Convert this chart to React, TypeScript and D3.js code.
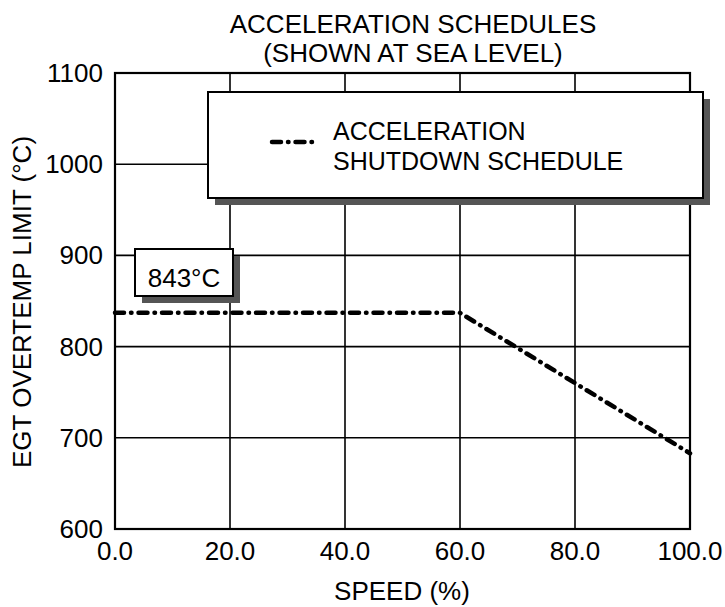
import React, { useEffect, useRef } from 'react';
import * as d3 from 'd3';

const speedTicks = [0, 20, 40, 60, 80, 100];
const tempTicks = [600, 700, 800, 900, 1000, 1100];
const scheduleSpeed = [0, 60, 100];
const scheduleTemp = [837, 837, 683];
const limitLabel = '843°C';
const legendLines = ['ACCELERATION', 'SHUTDOWN SCHEDULE'];
const titleLines = ['ACCELERATION SCHEDULES', '(SHOWN AT SEA LEVEL)'];

const W = 725, H = 607;
const FONT = '"Liberation Sans", Arial, Helvetica, sans-serif';
const FS = 26;

const App = () => {
  const ref = useRef<SVGSVGElement>(null);

  useEffect(() => {
    if (!ref.current) return;
    const svg = d3.select(ref.current);
    svg.selectAll('*').remove();

    const x = d3.scaleLinear().domain([0, 100]).range([115, 690]);
    const y = d3.scaleLinear().domain([600, 1100]).range([529, 73]);

    svg.append('rect').attr('width', W).attr('height', H).attr('fill', '#fff');

    // title
    svg.append('g').selectAll('text').data(titleLines).enter().append('text')
      .attr('x', 413).attr('y', (d, i) => 33 + i * 29)
      .attr('text-anchor', 'middle').attr('font-family', FONT).attr('font-size', FS)
      .text(d => d);

    // grid
    const grid = svg.append('g').attr('stroke', '#000').attr('stroke-width', 1.6);
    grid.selectAll('.v').data(speedTicks.slice(1, -1)).enter().append('line')
      .attr('x1', d => x(d)).attr('x2', d => x(d)).attr('y1', y(1100)).attr('y2', y(600));
    grid.selectAll('.h').data(tempTicks.slice(1, -1)).enter().append('line')
      .attr('y1', d => y(d)).attr('y2', d => y(d)).attr('x1', x(0)).attr('x2', x(100));
    svg.append('rect')
      .attr('x', x(0)).attr('y', y(1100)).attr('width', x(100) - x(0)).attr('height', y(600) - y(1100))
      .attr('fill', 'none').attr('stroke', '#000').attr('stroke-width', 2.2);

    // tick labels
    svg.append('g').selectAll('text').data(speedTicks).enter().append('text')
      .attr('x', d => x(d)).attr('y', 560).attr('text-anchor', 'middle')
      .attr('font-family', FONT).attr('font-size', FS).text(d => d3.format('.1f')(d));
    svg.append('g').selectAll('text').data(tempTicks).enter().append('text')
      .attr('x', 103).attr('y', d => y(d) + 9).attr('text-anchor', 'end')
      .attr('font-family', FONT).attr('font-size', FS).text(d => d);

    // axis titles
    svg.append('text').attr('x', 402).attr('y', 600).attr('text-anchor', 'middle')
      .attr('font-family', FONT).attr('font-size', FS).text('SPEED (%)');
    svg.append('text').attr('transform', `translate(31,302) rotate(-90)`)
      .attr('text-anchor', 'middle').attr('font-family', FONT).attr('font-size', FS)
      .text('EGT OVERTEMP LIMIT (°C)');

    // schedule line
    const pts = scheduleSpeed.map((s, i) => [s, scheduleTemp[i]] as [number, number]);
    const dash = '9 7 0.5 7';
    svg.append('path').datum(pts)
      .attr('d', d3.line<[number, number]>().x(d => x(d[0])).y(d => y(d[1])))
      .attr('fill', 'none').attr('stroke', '#000').attr('stroke-width', 4.5)
      .attr('stroke-linecap', 'round').attr('stroke-dasharray', dash);

    // legend box with shadow
    const lg = svg.append('g');
    lg.append('rect').attr('x', 215).attr('y', 99).attr('width', 495).attr('height', 106).attr('fill', '#555');
    lg.append('rect').attr('x', 208).attr('y', 92).attr('width', 495).attr('height', 106)
      .attr('fill', '#fff').attr('stroke', '#000').attr('stroke-width', 2);
    lg.append('line').attr('x1', 272).attr('x2', 317).attr('y1', 142).attr('y2', 142)
      .attr('stroke', '#000').attr('stroke-width', 4.5).attr('stroke-linecap', 'round')
      .attr('stroke-dasharray', dash);
    lg.selectAll('text').data(legendLines).enter().append('text')
      .attr('x', 333).attr('y', (d, i) => 140 + i * 30)
      .attr('font-family', FONT).attr('font-size', 25).text(d => d);

    // value label box
    const vb = svg.append('g');
    vb.append('rect').attr('x', 142).attr('y', 256).attr('width', 98).attr('height', 47).attr('fill', '#555');
    vb.append('rect').attr('x', 135).attr('y', 249).attr('width', 98).attr('height', 47)
      .attr('fill', '#fff').attr('stroke', '#000').attr('stroke-width', 2);
    vb.append('text').attr('x', 184).attr('y', 287).attr('text-anchor', 'middle')
      .attr('font-family', FONT).attr('font-size', FS).text(limitLabel);
  }, []);

  return <svg ref={ref} width={W} height={H} style={{ display: 'block', position: 'absolute', left: 0, top: 0 }} />;
};

export default App;
